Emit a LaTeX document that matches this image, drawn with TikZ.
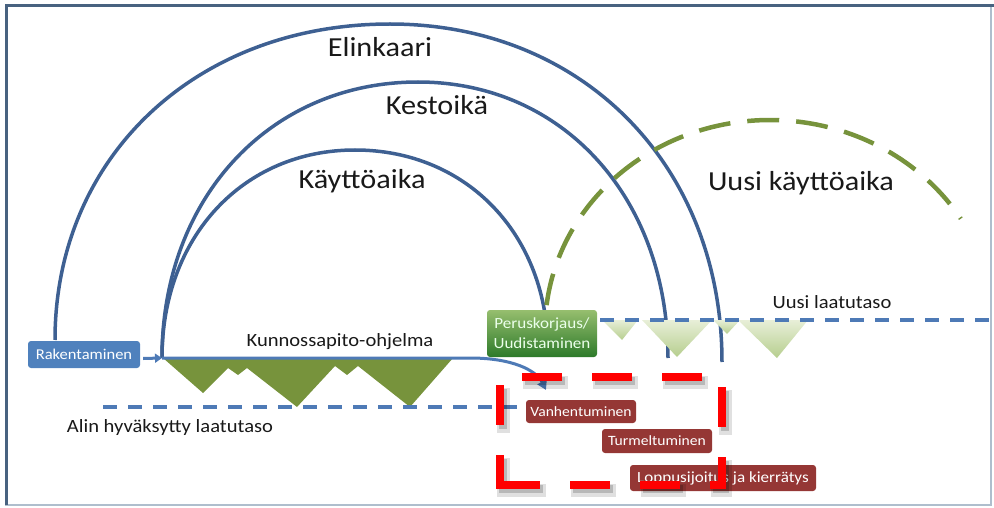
\documentclass[tikz,border=0pt]{standalone}
\usepackage{fontspec}
\setmainfont{Carlito}[FakeStretch=1.1]
\usetikzlibrary{arrows.meta,calc}

\definecolor{arcblue}{RGB}{62,96,146}
\definecolor{lineblue}{RGB}{78,122,182}
\definecolor{boxblue}{RGB}{79,129,189}
\definecolor{mossgreen}{RGB}{119,147,60}
\definecolor{paleTop}{RGB}{232,239,216}
\definecolor{paleBot}{RGB}{182,206,142}
\definecolor{leafTop}{RGB}{150,190,110}
\definecolor{leafBot}{RGB}{45,122,42}
\definecolor{brick}{RGB}{149,55,53}
\definecolor{alarm}{RGB}{255,0,0}
\definecolor{frameDark}{RGB}{72,98,128}
\definecolor{frameLight}{RGB}{175,190,205}
\definecolor{ink}{RGB}{25,25,25}

\tikzset{
  arcline/.style={draw=arcblue, line width=3.5pt},
  levelline/.style={draw=lineblue, line width=3.5pt, dash pattern=on 14pt off 11pt},
  newarc/.style={draw=mossgreen, line width=4.5pt, dash pattern=on 32pt off 17pt},
  bigtext/.style={font=\fontsize{27.5}{30}\selectfont, text=ink, anchor=base, inner sep=0pt},
  smalltext/.style={font=\fontsize{18.7}{21}\selectfont, text=ink, anchor=base, inner sep=0pt},
  tag/.style={rounded corners=3pt, text=white, inner sep=0pt, align=center},
  redtag/.style={tag, fill=brick, font=\fontsize{14.2}{16}\selectfont},
  alarmbox/.style={draw=alarm, line width=8pt, line cap=rect, dash pattern=on 32pt off 38pt, dash phase=6pt},
}

\begin{document}
\begin{tikzpicture}[x=1pt, y=-1pt]
\useasboundingbox (0,0) rectangle (994,508);

% frame
\draw[frameLight, line width=1.5pt] (6,6) rectangle (991,505);
\draw[frameDark, line width=3pt] (6,505) -- (6,6) -- (994,6);

% key points
\coordinate (k0) at (162,358);
\coordinate (k1) at (546,390);

% life-cycle arcs
\draw[arcline] (55,340) .. controls (55,157) and (196,24) .. (390,24)
                        .. controls (583,24) and (722,166) .. (722,362);
\draw[arcline] (k0) .. controls (162,198) and (270,82) .. (418,82)
                    .. controls (563,82) and (668,198) .. (668,358);
\draw[arcline] (k0) .. controls (162,237) and (243,150) .. (355,150)
                    .. controls (467,150) and (548,235) .. (548,352);

% new service life
\draw[newarc] plot[domain=173.2:32, samples=90, smooth] ({770+225*cos(\x)}, {330-210*sin(\x)});

% maintenance programme dips
\fill[mossgreen] (163,358) -- (203,393) -- (228,368) -- (238,375) -- (247,368)
  -- (297,407) -- (335,366) -- (347,375) -- (358,366) -- (410,407) -- (453,358) -- cycle;

% dips above the new quality level
\shade[top color=paleTop, bottom color=paleBot]
  (602,320) -- (622,340) -- (638,320) -- cycle;
\shade[top color=paleTop, bottom color=paleBot]
  (642,320) -- (677,357) -- (712,320) -- cycle;
\shade[top color=paleTop, bottom color=paleBot]
  (713,320) -- (727,334) -- (740,320) -- cycle;
\shade[top color=paleTop, bottom color=paleBot]
  (738,320) -- (777,358) -- (808,320) -- cycle;

% quality levels
\draw[levelline] (103,407) -- (522,407);
\draw[levelline] (600,320) -- (994,320);

% maintenance line and drift to ageing
\draw[draw=lineblue, line width=3pt, -{Triangle[length=9pt,width=10pt]}]
  (k0) -- (470,358) .. controls (512,358) and (536,370) .. (k1);

% labels
\node[bigtext] (elinkaari) at (380,57) {Elinkaari};
\node[bigtext] (kestoika) at (437,115) {Kestoikä};
\node[bigtext] (kayttoaika) at (362,189) {Käyttöaika};
\node[bigtext] (uusika) at (801,190) {Uusi käyttöaika};
\node[smalltext] (kunnossapito) at (340,346) {Kunnossapito-ohjelma};
\node[smalltext] (alin) at (170,432) {Alin hyväksytty laatutaso};
\node[smalltext] (uusitaso) at (832,308) {Uusi laatutaso};

% boxes
\node[tag, fill=boxblue, minimum width=112pt, minimum height=27pt,
      font=\fontsize{15}{17}\selectfont] (rak) at (84,354.5) {Rakentaminen};
\draw[draw=lineblue, line width=3pt, -{Triangle[length=7pt,width=9pt]}]
  ($(rak.east)+(3,4)$) -- (k0);
\node[tag, top color=leafTop, bottom color=leafBot, minimum width=110pt, minimum height=47pt,
      text=white!92!green, font=\fontsize{15.5}{20}\selectfont] (perus) at (542,333.5)
      {Peruskorjaus/\\Uudistaminen};
\node[redtag, minimum width=110pt, minimum height=23pt] (vanh) at (581,411.5) {Vanhentuminen};
\node[redtag, minimum width=110pt, minimum height=24pt] (turm) at (657,441) {Turmeltuminen};
\node[redtag, minimum width=186pt, minimum height=26pt, font=\fontsize{15.5}{17}\selectfont]
  (lopp) at (723,478) {Loppusijoitus ja kierrätys};

% highlight frame with its shadow
\draw[alarmbox, draw=black, opacity=0.12, line width=13pt]
  (503,490) -- (503,382) -- (725,382) -- (725,490) -- cycle;
\draw[alarmbox, draw=black, opacity=0.18]
  (503,489) -- (503,381) -- (725,381) -- (725,489) -- cycle;
\draw[alarmbox] (500,485) -- (500,377) -- (722,377) -- (722,485) -- cycle;
\end{tikzpicture}
\end{document}
